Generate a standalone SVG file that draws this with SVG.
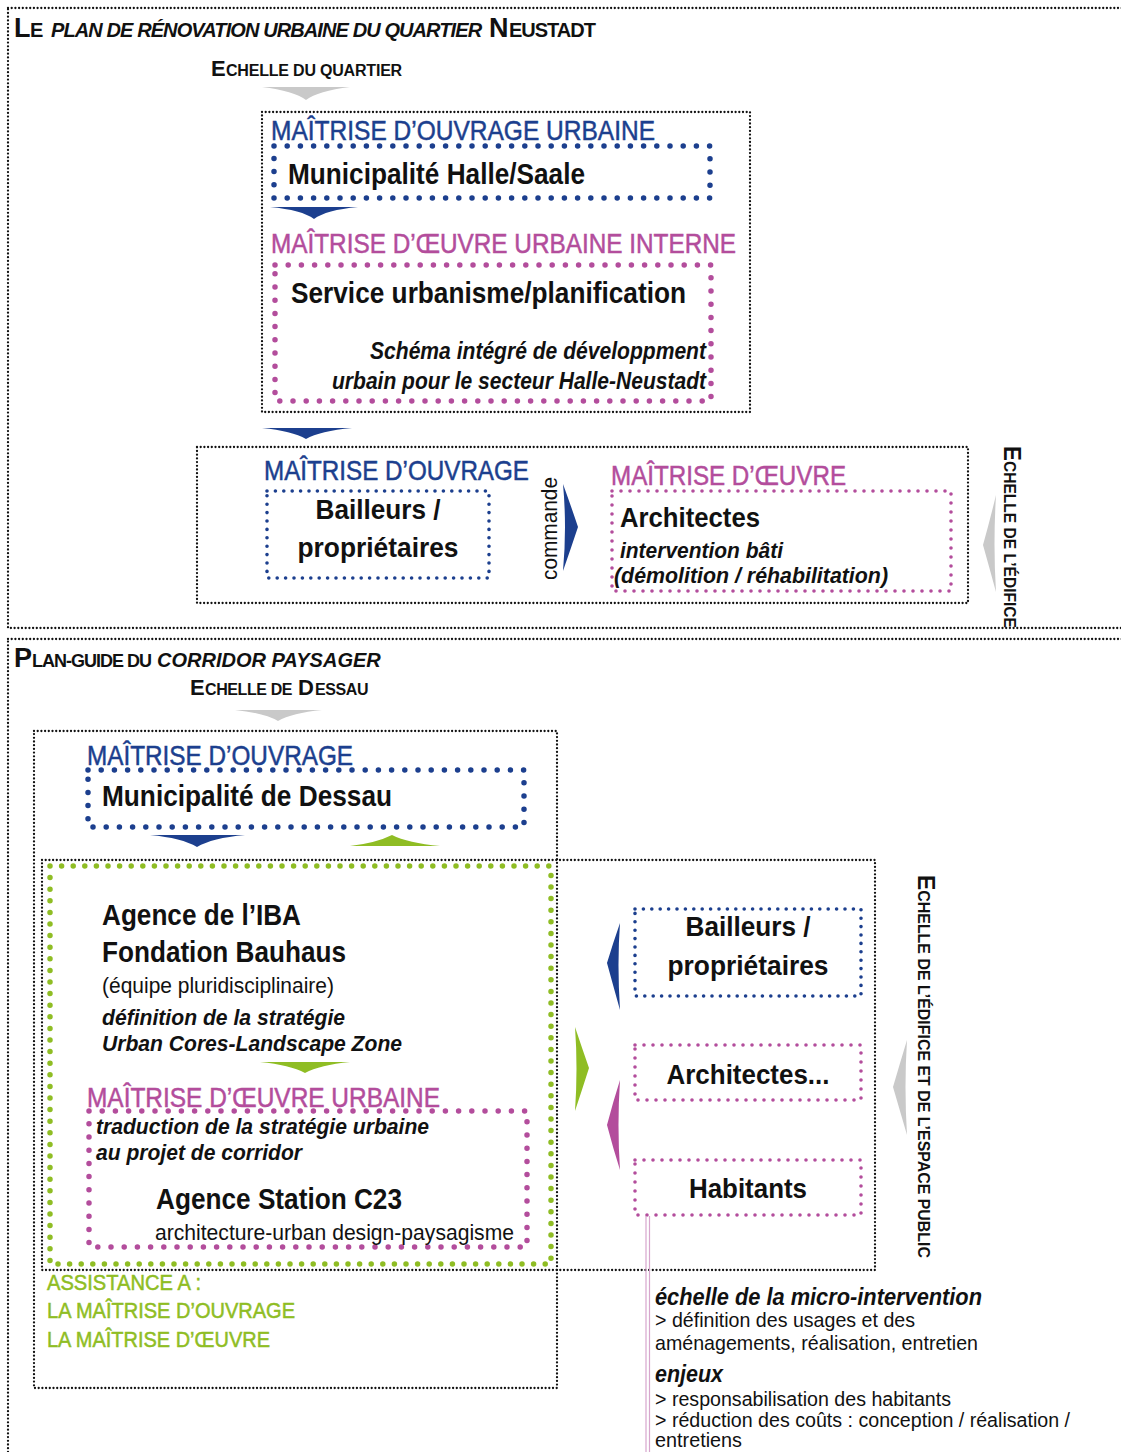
<svg xmlns="http://www.w3.org/2000/svg" width="1121" height="1452" viewBox="0 0 1121 1452">
<style>
text{font-family:"Liberation Sans Narrow","Liberation Sans",Arial,sans-serif;fill:#111}
.b{font-weight:bold}
.i{font-style:italic}
.blue{fill:#1c3f8e;stroke:#1c3f8e;stroke-width:0.5}
.mag{fill:#b34d9c;stroke:#b34d9c;stroke-width:0.5}
.grn{fill:#8fbd24;stroke:#8fbd24;stroke-width:0.5}
.frame{fill:none;stroke:#111;stroke-width:2.3;stroke-linecap:round;stroke-dasharray:0 3.7}
.dblue{fill:none;stroke:#1c3f8e;stroke-width:5.5;stroke-linecap:round;stroke-dasharray:0 13.2}
.dmag{fill:none;stroke:#b34d9c;stroke-width:5.5;stroke-linecap:round;stroke-dasharray:0 13.2}
.dgrn{fill:none;stroke:#8fbd24;stroke-width:5.5;stroke-linecap:round;stroke-dasharray:0 11.6}
.sblue{fill:none;stroke:#1c3f8e;stroke-width:3.6;stroke-linecap:round;stroke-dasharray:0 8.4}
.smag{fill:none;stroke:#b34d9c;stroke-width:3.6;stroke-linecap:round;stroke-dasharray:0 9}
.ab{fill:#1c3f8e}.am{fill:#b34d9c}.ag{fill:#8fbd24}.ay{fill:#c9c9c9}
</style>

<!-- outer frames -->
<g id="frame-neustadt"><rect class="frame" x="8" y="8" width="1140" height="620"/></g>
<g id="frame-dessau"><rect class="frame" x="8" y="639" width="1140" height="900"/></g>

<!-- Section 1 titles -->
<g id="title-neustadt">
<text class="b" x="14" y="37" font-size="27">L</text>
<text class="b" x="30" y="37" font-size="20">E</text>
<text class="b i" x="51" y="37" font-size="20" letter-spacing="-0.9">PLAN DE RÉNOVATION URBAINE DU QUARTIER</text>
<text class="b" x="489" y="37" font-size="27">N</text>
<text class="b" x="509" y="37" font-size="20" letter-spacing="-1">EUSTADT</text>
<text class="b" x="211" y="76" font-size="22">E</text>
<text class="b" x="226" y="76" font-size="16" letter-spacing="-0.2">CHELLE DU QUARTIER</text>
</g>

<!-- Box 1 -->
<g id="box-urbain">
<rect class="frame" x="262" y="112" width="488" height="300"/>
</g>
<g id="mo-halle">
<text class="blue" x="271" y="140" font-size="28" textLength="384" lengthAdjust="spacingAndGlyphs">MAÎTRISE D’OUVRAGE URBAINE</text>
<rect class="dblue" x="274" y="146" width="436" height="52"/>
<text class="b" x="288" y="184" font-size="29" textLength="297" lengthAdjust="spacingAndGlyphs">Municipalité Halle/Saale</text>
</g>
<g id="moe-interne">
<text class="mag" x="271" y="253" font-size="28" textLength="465" lengthAdjust="spacingAndGlyphs">MAÎTRISE D’ŒUVRE URBAINE INTERNE</text>
<rect class="dmag" x="275" y="265" width="436" height="136"/>
<text class="b" x="291" y="303" font-size="29" textLength="395" lengthAdjust="spacingAndGlyphs">Service urbanisme/planification</text>
<text class="b i" x="706" y="359" font-size="23" text-anchor="end" textLength="336" lengthAdjust="spacingAndGlyphs">Schéma intégré de développment</text>
<text class="b i" x="706" y="389" font-size="23" text-anchor="end" textLength="374" lengthAdjust="spacingAndGlyphs">urbain pour le secteur Halle-Neustadt</text>
</g>

<!-- Box 2 -->
<g id="box-edifice">
<rect class="frame" x="197" y="447" width="771" height="156"/>
</g>
<g id="mo-bailleurs">
<text class="blue" x="264" y="480" font-size="28" textLength="265" lengthAdjust="spacingAndGlyphs">MAÎTRISE D’OUVRAGE</text>
<rect class="sblue" x="267" y="491" width="222" height="87"/>
<text class="b" x="378" y="519" font-size="28" text-anchor="middle" textLength="125" lengthAdjust="spacingAndGlyphs">Bailleurs /</text>
<text class="b" x="378" y="557" font-size="28" text-anchor="middle" textLength="161" lengthAdjust="spacingAndGlyphs">propriétaires</text>
</g>
<g id="moe-architectes">
<text class="mag" x="611" y="485" font-size="28" textLength="235" lengthAdjust="spacingAndGlyphs">MAÎTRISE D’ŒUVRE</text>
<rect class="smag" x="612" y="491" width="339" height="100"/>
<text class="b" x="620" y="527" font-size="28" textLength="140" lengthAdjust="spacingAndGlyphs">Architectes</text>
<text class="b i" x="620" y="558" font-size="22" textLength="163" lengthAdjust="spacingAndGlyphs">intervention bâti</text>
<text class="b i" x="614" y="583" font-size="22" textLength="274" lengthAdjust="spacingAndGlyphs">(démolition / réhabilitation)</text>
</g>
<g id="label-edifice">
<text class="b" transform="translate(1004,446) rotate(90)" x="0" y="0" textLength="182" lengthAdjust="spacingAndGlyphs"><tspan font-size="23">E</tspan><tspan font-size="16">CHELLE DE L’ÉDIFICE</tspan></text>
</g>

<!-- Section 2 titles -->
<g id="title-dessau">
<text class="b" x="14" y="667" font-size="27">P</text>
<text class="b" x="32" y="667" font-size="18" letter-spacing="-1">LAN-GUIDE DU</text>
<text class="b i" x="157" y="667" font-size="20">CORRIDOR PAYSAGER</text>
<text class="b" x="190" y="695" font-size="22">E</text>
<text class="b" x="205" y="695" font-size="16" letter-spacing="-0.4">CHELLE DE</text>
<text class="b" x="298" y="695" font-size="22">D</text>
<text class="b" x="315" y="695" font-size="16" letter-spacing="-0.4">ESSAU</text>
</g>

<!-- Box 3 / Box 4 frames -->
<g id="box-dessau"><rect class="frame" x="34" y="731" width="523" height="657"/></g>
<g id="box-edifice-espace"><rect class="frame" x="42" y="860" width="833" height="410"/></g>

<g id="mo-dessau">
<text class="blue" x="87" y="765" font-size="28" textLength="266" lengthAdjust="spacingAndGlyphs">MAÎTRISE D’OUVRAGE</text>
<rect class="dblue" x="88" y="770" width="436" height="57"/>
<text class="b" x="102" y="806" font-size="29" textLength="290" lengthAdjust="spacingAndGlyphs">Municipalité de Dessau</text>
</g>

<g id="iba">
<rect class="dgrn" x="50" y="866" width="501" height="398"/>
<text class="b" x="102" y="925" font-size="29" textLength="199" lengthAdjust="spacingAndGlyphs">Agence de l’IBA</text>
<text class="b" x="102" y="962" font-size="29" textLength="244" lengthAdjust="spacingAndGlyphs">Fondation Bauhaus</text>
<text x="102" y="993" font-size="22" textLength="232" lengthAdjust="spacingAndGlyphs">(équipe pluridisciplinaire)</text>
<text class="b i" x="102" y="1025" font-size="22" textLength="243" lengthAdjust="spacingAndGlyphs">définition de la stratégie</text>
<text class="b i" x="102" y="1051" font-size="22" textLength="300" lengthAdjust="spacingAndGlyphs">Urban Cores-Landscape Zone</text>
</g>

<g id="moe-c23">
<text class="mag" x="87" y="1107" font-size="28" textLength="353" lengthAdjust="spacingAndGlyphs">MAÎTRISE D’ŒUVRE URBAINE</text>
<rect class="dmag" x="89" y="1111" width="438" height="136"/>
<text class="b i" x="96" y="1134" font-size="22" textLength="333" lengthAdjust="spacingAndGlyphs">traduction de la stratégie urbaine</text>
<text class="b i" x="96" y="1160" font-size="22" textLength="206" lengthAdjust="spacingAndGlyphs">au projet de corridor</text>
<text class="b" x="156" y="1209" font-size="29" textLength="246" lengthAdjust="spacingAndGlyphs">Agence Station C23</text>
<text x="155" y="1240" font-size="22" textLength="359" lengthAdjust="spacingAndGlyphs">architecture-urban design-paysagisme</text>
</g>

<g id="assistance">
<text class="grn" x="47" y="1290" font-size="22" textLength="154" lengthAdjust="spacingAndGlyphs">ASSISTANCE A :</text>
<text class="grn" x="47" y="1318" font-size="22" textLength="248" lengthAdjust="spacingAndGlyphs">LA MAÎTRISE D’OUVRAGE</text>
<text class="grn" x="47" y="1347" font-size="22" textLength="223" lengthAdjust="spacingAndGlyphs">LA MAÎTRISE D’ŒUVRE</text>
</g>

<g id="bailleurs-2">
<rect class="sblue" x="635" y="909" width="226" height="87"/>
<text class="b" x="748" y="936" font-size="28" text-anchor="middle" textLength="125" lengthAdjust="spacingAndGlyphs">Bailleurs /</text>
<text class="b" x="748" y="975" font-size="28" text-anchor="middle" textLength="161" lengthAdjust="spacingAndGlyphs">propriétaires</text>
</g>
<g id="architectes-2">
<rect class="smag" x="635" y="1045" width="226" height="55"/>
<text class="b" x="748" y="1084" font-size="28" text-anchor="middle" textLength="163" lengthAdjust="spacingAndGlyphs">Architectes...</text>
</g>
<g id="habitants">
<rect class="smag" x="635" y="1160" width="226" height="55"/>
<text class="b" x="748" y="1198" font-size="28" text-anchor="middle" textLength="118" lengthAdjust="spacingAndGlyphs">Habitants</text>
</g>

<g id="label-edifice-espace">
<text class="b" transform="translate(918,875) rotate(90)" x="0" y="0" textLength="383" lengthAdjust="spacingAndGlyphs"><tspan font-size="23">E</tspan><tspan font-size="16">CHELLE DE L’ÉDIFICE ET DE L’ESPACE PUBLIC</tspan></text>
</g>

<g id="micro-intervention">
<text class="b i" x="655" y="1305" font-size="24" textLength="327" lengthAdjust="spacingAndGlyphs">échelle de la micro-intervention</text>
<text x="655" y="1327" font-size="21" textLength="260" lengthAdjust="spacingAndGlyphs">&gt; définition des usages et des</text>
<text x="655" y="1350" font-size="21" textLength="323" lengthAdjust="spacingAndGlyphs">aménagements, réalisation, entretien</text>
<text class="b i" x="655" y="1382" font-size="23" textLength="68" lengthAdjust="spacingAndGlyphs">enjeux</text>
<text x="655" y="1406" font-size="20" textLength="296" lengthAdjust="spacingAndGlyphs">&gt; responsabilisation des habitants</text>
<text x="655" y="1427" font-size="20" textLength="415" lengthAdjust="spacingAndGlyphs">&gt; réduction des coûts : conception / réalisation /</text>
<text x="655" y="1447" font-size="20" textLength="87" lengthAdjust="spacingAndGlyphs">entretiens</text>
</g>

<!-- connectors / arrows -->
<g id="connectors">
<path class="ay" d="M262,87 L350,87 Q318,91 306,100 Q294,91 262,87Z"/>
<path class="ab" d="M270,207 L358,207 Q326,210 314,219 Q302,210 270,207Z"/>
<path class="ab" d="M262,428 L352,428 Q320,431 306,439 Q292,431 262,428Z"/>
<path class="ab" d="M563,484 Q571,506 578,527 Q571,548 563,571 Q567,527 563,484Z"/>
<path class="ay" d="M996,495 Q990,520 983,545 Q990,570 996,592 Q993,545 996,495Z"/>
<path class="ay" d="M235,710 L322,710 Q292,713 278,721 Q264,713 235,710Z"/>
<path class="ab" d="M150,835 L245,835 Q212,838 197,847 Q182,838 150,835Z"/>
<path class="ag" d="M350,846 L440,846 Q408,843 392,835 Q376,843 350,846Z"/>
<path class="ag" d="M260,1062 L350,1062 Q320,1065 305,1073 Q290,1065 260,1062Z"/>
<path class="ag" d="M575,1027 Q582,1048 589,1068 Q582,1090 575,1111 Q578,1068 575,1027Z"/>
<path class="ab" d="M620,923 Q613,943 607,963 Q613,985 620,1010 Q617,963 620,923Z"/>
<path class="am" d="M620,1080 Q613,1102 607,1125 Q613,1148 620,1170 Q617,1125 620,1080Z"/>
<path class="ay" d="M907,1040 Q900,1063 893,1087 Q900,1111 907,1135 Q904,1087 907,1040Z"/>
<line x1="646" y1="1216" x2="646" y2="1452" stroke="#d7a6cd" stroke-width="1.2"/>
<line x1="649.5" y1="1216" x2="649.5" y2="1452" stroke="#d7a6cd" stroke-width="1.2"/>
<text transform="translate(557,580) rotate(-90)" x="0" y="0" font-size="22" textLength="103" lengthAdjust="spacingAndGlyphs">commande</text>
</g>
</svg>
